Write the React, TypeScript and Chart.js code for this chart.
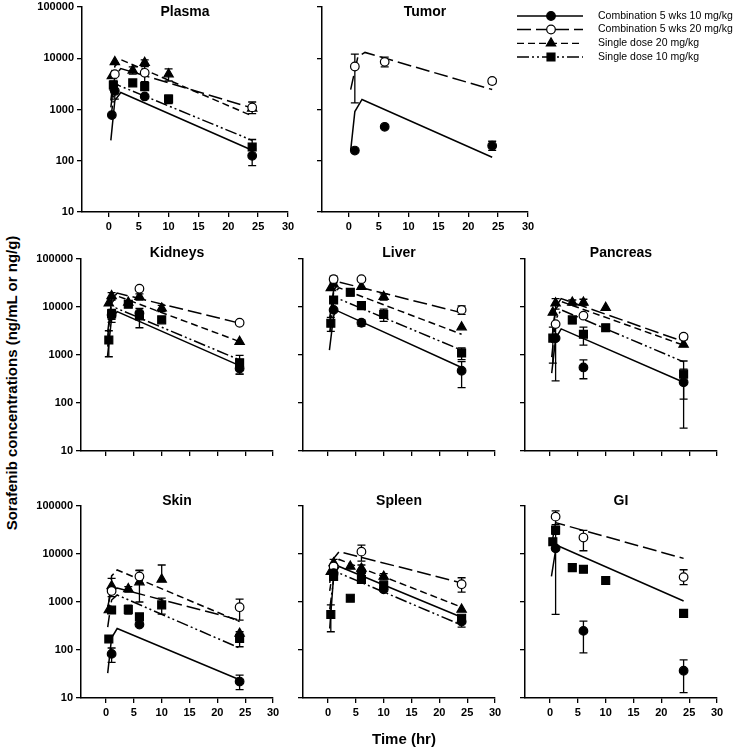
import React, { useEffect, useRef } from 'react';
import { Chart, registerables } from 'chart.js';
Chart.register(...registerables);

type Obs = number[]; // [time, value, lowerErr?, upperErr?]
type Curve = number[][]; // [time, value]

const X_TICKS = [0, 5, 10, 15, 20, 25, 30];
const Y_TICKS = [10, 100, 1000, 10000, 100000];
const SERIES_LABELS = [
  'Combination 5 wks 10 mg/kg',
  'Combination 5 wks 20 mg/kg',
  'Single dose 20 mg/kg',
  'Single dose 10 mg/kg',
];

// ---------- Plasma ----------
const PLASMA_C10: Obs[] = [[0.5, 780], [1, 2300, 1600, 3000], [6, 1800], [24, 125, 80, 170]];
const PLASMA_C20: Obs[] = [[1, 4900], [6, 5200, 3500, 6900], [24, 1100, 830, 1400]];
const PLASMA_S20: Obs[] = [[0.5, 4500], [1, 8500], [4, 5800, 4900, 6800], [6, 8200, 7000, 9300], [10, 4900, 3600, 6200], [24, 1050]];
const PLASMA_S10: Obs[] = [[0.75, 3000, 2400, 3600], [4, 3300], [6, 2800], [10, 1600, 1300, 1900], [24, 185, 130, 260]];
const PLASMA_M_C10: Curve = [[0.33, 250], [1, 1500], [2, 2150], [24, 160]];
const PLASMA_M_C20: Curve = [[0.33, 1100], [1, 4500], [2, 6300], [24, 1070]];
const PLASMA_M_S20: Curve = [[0.33, 1500], [1, 7000], [2, 9400], [24, 750]];
const PLASMA_M_S10: Curve = [[0.33, 700], [1, 2500], [1.5, 3000], [24, 250]];

// ---------- Tumor ----------
const TUMOR_C10: Obs[] = [[1, 158], [6, 460], [24, 196, 160, 240]];
const TUMOR_C20: Obs[] = [[1, 6900, 1350, 12000], [6, 8500, 6800, 10500], [24, 3600, 3200, 4000]];
const TUMOR_M_C10: Curve = [[0.3, 158], [1, 910], [2.2, 1570], [24, 117]];
const TUMOR_M_C20: Curve = [[0.3, 2450], [1.5, 10600], [2.7, 13000], [24, 2450]];

// ---------- Kidneys ----------
const KIDNEYS_C10: Obs[] = [[1, 6800, 4800, 8800], [6, 7400], [24, 525, 400, 650]];
const KIDNEYS_C20: Obs[] = [[6, 24000], [24, 4700]];
const KIDNEYS_S20: Obs[] = [[0.5, 12000], [1, 17000, 14000, 20000], [4, 12500], [6, 16400, 14000, 18800], [10, 9400, 8000, 10800], [24, 1900]];
const KIDNEYS_S10: Obs[] = [[0.5, 2050, 920, 3200], [1, 7200, 5500, 8900], [4, 11400], [6, 6500, 3700, 9300], [10, 5400], [24, 690, 400, 980]];
const KIDNEYS_M_C10: Curve = [[0.25, 900], [1, 6000], [2, 8000], [24, 600]];
const KIDNEYS_M_C20: Curve = [[0.3, 3000], [1, 14000], [2, 19500], [24, 4600]];
const KIDNEYS_M_S20: Curve = [[0.3, 2500], [1, 12000], [2, 17000], [24, 1900]];
const KIDNEYS_M_S10: Curve = [[0.3, 1500], [1, 7500], [1.8, 9500], [24, 790]];

// ---------- Liver ----------
const LIVER_C10: Obs[] = [[1, 8700], [6, 4700, 4000, 5400], [24, 470, 210, 730]];
const LIVER_C20: Obs[] = [[1, 38000, 32000, 44000], [6, 38000], [24, 8700, 7000, 10500]];
const LIVER_S20: Obs[] = [[0.5, 25000], [1, 30000], [6, 26500], [10, 16400, 14000, 18800], [24, 3800]];
const LIVER_S10: Obs[] = [[0.5, 4600, 3100, 6100], [1, 14000], [4, 20300, 17000, 23600], [6, 10700], [10, 7000, 5000, 9000], [24, 1100, 800, 1400]];
const LIVER_M_C10: Curve = [[0.25, 1260], [1, 6500], [1.5, 8500], [24, 550]];
const LIVER_M_C20: Curve = [[0.3, 6000], [1, 22000], [2, 33000], [24, 7600]];
const LIVER_M_S20: Curve = [[0.3, 5000], [1, 20000], [2, 25000], [24, 2700]];
const LIVER_M_S10: Curve = [[0.3, 3000], [1, 13000], [1.5, 15500], [24, 1260]];

// ---------- Pancreas ----------
const PANCREAS_C10: Obs[] = [[1, 2250, 290, 4200], [6, 550, 320, 790], [24, 270, 30, 510]];
const PANCREAS_C20: Obs[] = [[1, 4400], [6, 6600], [24, 2400, 2100, 2700]];
const PANCREAS_S20: Obs[] = [[0.5, 7700], [1, 12000, 9000, 15000], [4, 12500, 11000, 14000], [6, 12500, 11000, 14500], [10, 9700], [24, 1650]];
const PANCREAS_S10: Obs[] = [[0.5, 2250, 680, 3800], [4, 5400, 4500, 6300], [6, 2700, 1600, 3800], [10, 3700, 3100, 4300], [24, 400, 120, 750]];
const PANCREAS_M_C10: Curve = [[0.3, 420], [1, 2200], [2, 3500], [24, 270]];
const PANCREAS_M_C20: Curve = [[0.3, 2000], [1, 10000], [2, 15000], [24, 1900]];
const PANCREAS_M_S20: Curve = [[0.3, 1800], [1, 9000], [2, 13000], [24, 1600]];
const PANCREAS_M_S10: Curve = [[0.3, 900], [1, 5500], [2, 8700], [24, 720]];

// ---------- Skin ----------
const SKIN_C10: Obs[] = [[1, 83, 55, 110], [6, 340], [24, 22, 15, 30]];
const SKIN_C20: Obs[] = [[1, 1700], [6, 3400, 2500, 4500], [24, 780, 420, 1150]];
const SKIN_S20: Obs[] = [[0.5, 680], [1, 2150, 1300, 3100], [4, 1870, 1600, 2100], [6, 2600, 1000, 4600], [10, 2950, 2950, 5900], [24, 220]];
const SKIN_S10: Obs[] = [[0.5, 170], [1, 680], [4, 700, 560, 860], [6, 490], [10, 870, 560, 1200], [24, 175, 117, 240]];
const SKIN_M_C10: Curve = [[0.3, 33], [1, 180], [2, 280], [24, 24]];
const SKIN_M_C20: Curve = [[0.3, 800], [1, 1800], [2, 1950], [24, 420]];
const SKIN_M_S20: Curve = [[0.3, 600], [1, 3500], [2, 4650], [24, 390]];
const SKIN_M_S10: Curve = [[0.3, 300], [1, 1100], [2, 1400], [24, 110]];

// ---------- Spleen ----------
const SPLEEN_C10: Obs[] = [[1, 4000], [6, 4300], [10, 1830], [24, 390, 300, 480]];
const SPLEEN_C20: Obs[] = [[1, 5500], [6, 11200, 7100, 15300], [24, 2350, 1600, 3200]];
const SPLEEN_S20: Obs[] = [[0.5, 4300], [1, 6500, 5300, 7700], [4, 5500], [6, 5000, 4100, 5900], [10, 3400, 2900, 3900], [24, 700]];
const SPLEEN_S10: Obs[] = [[0.5, 550, 240, 870], [1, 3400], [4, 1200], [6, 2950], [10, 2250], [24, 460]];
const SPLEEN_M_C10: Curve = [[0.3, 280], [1, 3500], [2, 5500], [24, 480]];
const SPLEEN_M_C20: Curve = [[0.3, 2500], [1, 8000], [2, 11200], [24, 2500]];
const SPLEEN_M_S20: Curve = [[0.3, 1700], [1, 5800], [2, 7700], [24, 780]];
const SPLEEN_M_S10: Curve = [[0.3, 700], [1, 3000], [2, 4000], [24, 330]];

// ---------- GI ----------
const GI_C10: Obs[] = [[1, 13100, 550, 25700], [6, 250, 87, 400], [24, 37, 13, 62]];
const GI_C20: Obs[] = [[1, 60000, 41000, 79000], [6, 22000, 11700, 31000], [24, 3300, 2300, 4700]];
const GI_S10: Obs[] = [[0.5, 18000], [1, 31600, 26000, 37000], [4, 5200], [6, 4800], [10, 2800], [24, 580]];
const GI_M_C10: Curve = [[0.25, 3400], [1, 12000], [1.5, 14700], [24, 1050]];
const GI_M_C20: Curve = [[0.25, 15000], [1, 45000], [24, 8100]];

// ---------- styles ----------
const STYLES = [
  { pointStyle: 'circle', radius: 4.3, fill: '#000', dash: [] as number[] },
  { pointStyle: 'circle', radius: 4.3, fill: '#fff', dash: [14, 5] },
  { pointStyle: 'triangle', radius: 5.4, fill: '#000', dash: [7, 4] },
  { pointStyle: 'rect', radius: 5.6, fill: '#000', dash: [12, 3, 2, 3, 2, 3] },
];
const FONT = '"Liberation Sans", Arial, sans-serif';
const YW = 50;
const XH = 24;
const PAD = { top: 18, left: 4, right: 12, bottom: 2 };

interface PanelDef {
  title: string;
  rect: [number, number, number, number]; // left, top, right, bottom of plot area
  showX: boolean;
  showY: boolean;
  dy: number;
  obs: (Obs[] | null)[];
  model: (Curve | null)[];
  legend?: boolean;
}

const PANELS: PanelDef[] = [
  { title: 'Plasma', rect: [82, 7, 288, 212], showX: true, showY: true, dy: 5,
    obs: [PLASMA_C10, PLASMA_C20, PLASMA_S20, PLASMA_S10], model: [PLASMA_M_C10, PLASMA_M_C20, PLASMA_M_S20, PLASMA_M_S10] },
  { title: 'Tumor', rect: [322, 7, 528, 212], showX: true, showY: false, dy: 5, legend: true,
    obs: [TUMOR_C10, TUMOR_C20, null, null], model: [TUMOR_M_C10, TUMOR_M_C20, null, null] },
  { title: 'Kidneys', rect: [81, 259, 273, 451], showX: false, showY: true, dy: -6,
    obs: [KIDNEYS_C10, KIDNEYS_C20, KIDNEYS_S20, KIDNEYS_S10], model: [KIDNEYS_M_C10, KIDNEYS_M_C20, KIDNEYS_M_S20, KIDNEYS_M_S10] },
  { title: 'Liver', rect: [303, 259, 495, 451], showX: false, showY: false, dy: -6,
    obs: [LIVER_C10, LIVER_C20, LIVER_S20, LIVER_S10], model: [LIVER_M_C10, LIVER_M_C20, LIVER_M_S20, LIVER_M_S10] },
  { title: 'Pancreas', rect: [525, 259, 717, 451], showX: false, showY: false, dy: -6,
    obs: [PANCREAS_C10, PANCREAS_C20, PANCREAS_S20, PANCREAS_S10], model: [PANCREAS_M_C10, PANCREAS_M_C20, PANCREAS_M_S20, PANCREAS_M_S10] },
  { title: 'Skin', rect: [81, 506, 273, 698], showX: true, showY: true, dy: -5,
    obs: [SKIN_C10, SKIN_C20, SKIN_S20, SKIN_S10], model: [SKIN_M_C10, SKIN_M_C20, SKIN_M_S20, SKIN_M_S10] },
  { title: 'Spleen', rect: [303, 506, 495, 698], showX: true, showY: false, dy: -5,
    obs: [SPLEEN_C10, SPLEEN_C20, SPLEEN_S20, SPLEEN_S10], model: [SPLEEN_M_C10, SPLEEN_M_C20, SPLEEN_M_S20, SPLEEN_M_S10] },
  { title: 'GI', rect: [525, 506, 717, 698], showX: true, showY: false, dy: -5,
    obs: [GI_C10, GI_C20, null, GI_S10], model: [GI_M_C10, GI_M_C20, null, null] },
];

function geometry(def: PanelDef) {
  const [L, T, R, B] = def.rect;
  const padRight = def.legend ? 737 - R : PAD.right;
  const left = L - YW - PAD.left;
  const top = T - PAD.top;
  const w = PAD.left + YW + (R - L) + padRight;
  const h = PAD.top + (B - T) + XH + PAD.bottom;
  return { left, top, w, h, padRight };
}

function drawMarker(ctx: CanvasRenderingContext2D, style: typeof STYLES[number], x: number, y: number) {
  ctx.save();
  ctx.setLineDash([]);
  ctx.fillStyle = style.fill;
  ctx.strokeStyle = '#000';
  ctx.lineWidth = 1.2;
  ctx.beginPath();
  const r = style.radius;
  if (style.pointStyle === 'circle') {
    ctx.arc(x, y, r, 0, Math.PI * 2);
  } else if (style.pointStyle === 'triangle') {
    ctx.moveTo(x, y - r);
    ctx.lineTo(x + r * 0.866, y + r * 0.5);
    ctx.lineTo(x - r * 0.866, y + r * 0.5);
    ctx.closePath();
  } else {
    const s = r * Math.SQRT1_2;
    ctx.rect(x - s, y - s, 2 * s, 2 * s);
  }
  ctx.fill();
  ctx.stroke();
  ctx.restore();
}

const errorBarPlugin = {
  id: 'errorBars',
  beforeDatasetsDraw(chart: any) {
    const ctx = chart.ctx as CanvasRenderingContext2D;
    const ys = chart.scales.y;
    chart.data.datasets.forEach((ds: any, i: number) => {
      if (!ds.errorBars) return;
      const meta = chart.getDatasetMeta(i);
      ds.data.forEach((p: any, j: number) => {
        const el = meta.data[j];
        if (!el) return;
        const x = el.x;
        const y0 = el.y;
        ctx.save();
        ctx.strokeStyle = '#000';
        ctx.lineWidth = 1.3;
        ctx.setLineDash([]);
        const draw = (v: number) => {
          const yv = ys.getPixelForValue(v);
          ctx.beginPath();
          ctx.moveTo(x, y0);
          ctx.lineTo(x, yv);
          ctx.moveTo(x - 4, yv);
          ctx.lineTo(x + 4, yv);
          ctx.stroke();
        };
        if (p.hi != null && p.hi > p.y) draw(p.hi);
        if (p.lo != null && p.lo < p.y) draw(p.lo);
        ctx.restore();
      });
    });
  },
};

function makeConfig(def: PanelDef, g: ReturnType<typeof geometry>) {
  const datasets: any[] = [];
  def.model.forEach((curve, k) => {
    if (!curve) return;
    datasets.push({
      type: 'scatter',
      data: curve.map((c) => ({ x: c[0], y: c[1] })),
      showLine: true,
      pointRadius: 0,
      borderColor: '#000',
      borderWidth: 1.5,
      borderDash: STYLES[k].dash,
      fill: false,
      tension: 0,
      order: 5,
    });
  });
  def.obs.forEach((obs, k) => {
    if (!obs) return;
    const st = STYLES[k];
    datasets.push({
      type: 'scatter',
      data: obs.map((o) => ({ x: o[0], y: o[1], lo: o[2], hi: o[3] })),
      showLine: false,
      pointStyle: st.pointStyle,
      pointRadius: st.radius,
      backgroundColor: st.fill,
      borderColor: '#000',
      borderWidth: 1.2,
      errorBars: true,
      order: 1,
    });
  });

  const titlePlugin = {
    id: 'panelTitle',
    afterDraw(chart: any) {
      const ctx = chart.ctx as CanvasRenderingContext2D;
      const ca = chart.chartArea;
      ctx.save();
      ctx.font = `bold 14px ${FONT}`;
      ctx.fillStyle = '#000';
      ctx.textAlign = 'center';
      ctx.textBaseline = 'middle';
      ctx.fillText(def.title, (ca.left + ca.right) / 2, ca.top + def.dy);
      ctx.restore();
    },
  };

  const legendPlugin = {
    id: 'customLegend',
    afterDraw(chart: any) {
      if (!def.legend) return;
      const ctx = chart.ctx as CanvasRenderingContext2D;
      const rows = [16, 29.5, 43.3, 57];
      rows.forEach((py, k) => {
        const y = py - g.top;
        const x0 = 517 - g.left;
        const x1 = 583 - g.left;
        ctx.save();
        ctx.strokeStyle = '#000';
        ctx.lineWidth = 1.3;
        ctx.setLineDash(STYLES[k].dash);
        ctx.beginPath();
        ctx.moveTo(x0, y);
        ctx.lineTo(x1, y);
        ctx.stroke();
        ctx.restore();
        drawMarker(ctx, STYLES[k], 551 - g.left, y);
        ctx.save();
        ctx.font = `10.5px ${FONT}`;
        ctx.fillStyle = '#000';
        ctx.textAlign = 'left';
        ctx.textBaseline = 'middle';
        ctx.fillText(SERIES_LABELS[k], 598 - g.left, y);
        ctx.restore();
      });
    },
  };

  const tickFont = { family: FONT, size: 11, weight: 'bold' as const };
  return {
    type: 'scatter' as const,
    data: { datasets },
    plugins: [errorBarPlugin, titlePlugin, legendPlugin],
    options: {
      responsive: false,
      animation: false as const,
      devicePixelRatio: 1,
      events: [],
      layout: { padding: { top: PAD.top, left: PAD.left, right: g.padRight, bottom: PAD.bottom } },
      plugins: { legend: { display: false }, tooltip: { enabled: false }, title: { display: false } },
      scales: {
        x: {
          type: 'linear' as const,
          min: -4.5,
          max: 30,
          afterBuildTicks: (s: any) => { s.ticks = X_TICKS.map((v) => ({ value: v })); },
          afterFit: (s: any) => { s.height = XH; },
          ticks: { display: def.showX, color: '#000', font: tickFont, padding: 3, maxRotation: 0, autoSkip: false },
          grid: { display: true, drawOnChartArea: false, drawTicks: true, tickLength: 5, color: '#000', lineWidth: 1.3 },
          border: { display: true, color: '#000', width: 1.5 },
        },
        y: {
          type: 'logarithmic' as const,
          min: 10,
          max: 100000,
          afterBuildTicks: (s: any) => { s.ticks = Y_TICKS.map((v) => ({ value: v })); },
          afterFit: (s: any) => { s.width = YW; },
          ticks: { display: def.showY, color: '#000', font: tickFont, padding: 3, callback: (v: any) => String(v) },
          grid: { display: true, drawOnChartArea: false, drawTicks: true, tickLength: 5, color: '#000', lineWidth: 1.3 },
          border: { display: true, color: '#000', width: 1.5 },
        },
      },
    },
  };
}

function Panel({ def }: { def: PanelDef }) {
  const ref = useRef<HTMLCanvasElement>(null);
  const g = geometry(def);
  useEffect(() => {
    if (!ref.current) return;
    const chart = new Chart(ref.current, makeConfig(def, g) as any);
    return () => chart.destroy();
  }, []);
  return (
    <canvas
      ref={ref}
      width={g.w}
      height={g.h}
      style={{ position: 'absolute', left: g.left, top: g.top, width: g.w, height: g.h }}
    />
  );
}

export default function App() {
  return (
    <div style={{ position: 'absolute', left: 0, top: 0, width: 737, height: 750, background: '#fff', overflow: 'hidden' }}>
      {PANELS.map((p) => (
        <Panel key={p.title} def={p} />
      ))}
      <div
        style={{
          position: 'absolute', left: 11, top: 383, transform: 'translate(-50%, -50%) rotate(-90deg)',
          whiteSpace: 'nowrap', font: `bold 15px ${FONT}`, color: '#000',
        }}
      >
        Sorafenib concentrations (ng/mL or ng/g)
      </div>
      <div
        style={{
          position: 'absolute', left: 404, top: 738, transform: 'translate(-50%, -50%)',
          whiteSpace: 'nowrap', font: `bold 15px ${FONT}`, color: '#000',
        }}
      >
        Time (hr)
      </div>
    </div>
  );
}
